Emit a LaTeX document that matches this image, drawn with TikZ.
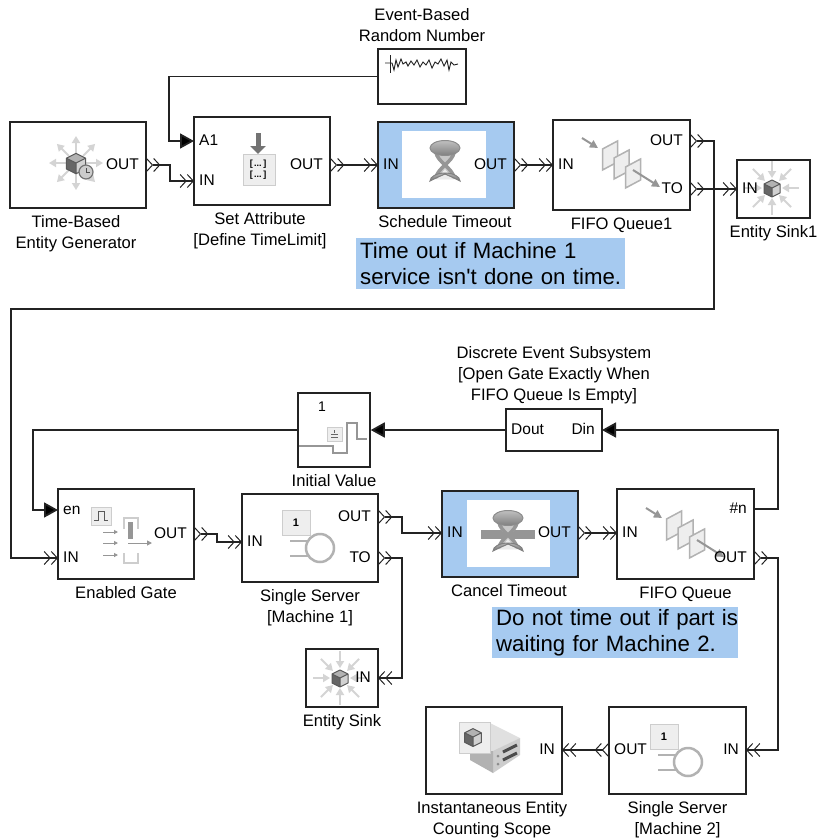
\documentclass[tikz,border=0pt]{standalone}
\usepackage{fontspec}
\setmainfont{Liberation Sans}
\newfontfamily\notefont{Liberation Sans}
\usetikzlibrary{arrows.meta,positioning}
\definecolor{figline}{RGB}{35,35,35}
\definecolor{fignote}{RGB}{166,202,240}
\definecolor{figicon}{RGB}{150,150,150}
\definecolor{figpale}{RGB}{205,205,205}
\definecolor{figpanel}{RGB}{238,238,238}
\tikzset{
  blk/.style   ={draw=figline, line width=1.5pt, fill=white, inner sep=0pt},
  win/.style   ={fill=white, inner sep=0pt},
  lab/.style   ={font=\fontsize{16.6}{21}\selectfont, align=center, inner sep=0pt, below=7pt},
  labt/.style  ={font=\fontsize{16.6}{21}\selectfont, align=center, inner sep=0pt, above=6pt},
  port/.style  ={font=\fontsize{15.5}{18}\selectfont, inner ysep=0pt, inner xsep=5pt, text height=11pt, text depth=3pt},
  portr/.style ={port, inner xsep=7pt, anchor=east},
  note/.style  ={fill=fignote, font=\notefont\fontsize{22.2}{26}\selectfont, align=left, inner xsep=0pt, inner ysep=0pt, minimum height=51pt},
  wire/.style  ={draw=figline, line width=1.8pt},
  sig/.style   ={wire, -{Triangle[length=14pt,width=15pt,fill=black]}},
  ent/.style   ={wire, arrows={Straight Barb[reversed,length=6pt,width=13pt,line width=1pt]Straight Barb[reversed,length=6pt,width=13pt,line width=1pt]-Straight Barb[length=6pt,width=13pt,line width=1pt]Straight Barb[length=6pt,width=13pt,line width=1pt]}},
  ray/.style   ={draw=black!17, line width=2pt, -{Triangle[length=7pt,width=8pt]}},
  gra/.style   ={draw=figicon, line width=2pt, -{Triangle[length=8pt,width=8pt]}},
  cube/.pic={
    \fill[black!30] (-8,-4) -- (0,-8) -- (8,-4) -- (0,0) -- cycle;
    \fill[black!60] (-8,-4) -- (0,0) -- (0,9) -- (-8,5) -- cycle;
    \fill[black!18] (8,-4) -- (0,0) -- (0,9) -- (8,5) -- cycle;
    \draw[draw=black!65,line width=1pt,line join=round] (-8,-4) -- (0,-8) -- (8,-4) -- (8,5) -- (0,9) -- (-8,5) -- cycle (-8,-4) -- (0,0) -- (8,-4) (0,0) -- (0,9);
  },
  burstout/.pic={
    \foreach \a in {0,45,...,315} \draw[ray] (\a:10) -- (\a:27);
    \pic[scale=1.2] at (0,0) {cube};
  },
  burstin/.pic={
    \foreach \a in {0,45,...,315} \draw[ray] (\a:27) -- (\a:10);
    \pic at (0,0) {cube};
  },
  glass/.pic={
    \fill[black!22] (-11,-13) .. controls (-9,-4) and (-3,-2) .. (-2,0) .. controls (-3,2) and (-9,6) .. (-11,14) -- (11,14) .. controls (9,6) and (3,2) .. (2,0) .. controls (3,-2) and (9,-4) .. (11,-13) -- cycle;
    \draw[draw=figicon,line width=3.5pt] (-9,-13) .. controls (-8,-3) and (8,3) .. (9,13);
    \draw[draw=figicon,line width=3.5pt] (9,-13) .. controls (8,-3) and (-8,3) .. (-9,13);
    \fill[black!8] (0,4) -- (-8,14) -- (8,14) -- cycle;
    \draw[draw=black!45,top color=black!25,bottom color=black!50,line width=1pt] (0,-17) ellipse (15 and 7.5);
    \draw[draw=black!50,top color=black!30,bottom color=black!55,line width=1pt] (-15,16) arc[start angle=180,end angle=360,x radius=15,y radius=8] -- (9,13) -- (0,9) -- (-9,13) -- cycle;
  },
  pages/.pic={
    \draw[gra] (-40,-25) -- (-24,-15);
    \foreach \k in {-1,0,1}
      \draw[draw=black!30,fill=figpanel,line width=1.5pt,xshift=\k*11.5pt,yshift=-\k*9pt] (-8,-5) -- (7,-13) -- (7,8) -- (-8,16) -- cycle;
    \draw[gra] (11,7) -- (38,24);
  },
  server/.pic={
    \draw[draw=figpale,fill=figpanel,line width=1pt] (-38,-38) rectangle (-10,-13);
    \node[font=\bfseries\fontsize{11}{12}\selectfont] at (-24,-25) {1};
    \draw[draw=black!30,line width=2.5pt] (0,0) circle (14);
    \draw[draw=black!30,line width=2.5pt] (-30,-7) -- (-12,-7) (-30,8) -- (-12,8);
  },
}
\begin{document}
\begin{tikzpicture}[x=1pt,y=-1pt]
  \useasboundingbox (0,0) rectangle (819,839);
  % blocks
  \node[blk,minimum width=136pt,minimum height=86pt] (gen) at (78,165) {};
  \node[blk,minimum width=136pt,minimum height=88pt] (attr) at (262,161) {};
  \node[blk,minimum width=88pt,minimum height=55pt] (rand) at (422,76.5) {};
  \node[blk,fill=fignote,minimum width=136pt,minimum height=86pt] (sched) at (446,165) {};
  \node[win,minimum width=84pt,minimum height=67pt] (schedwin) at (444,164.5) {};
  \node[blk,minimum width=137pt,minimum height=90pt] (fifoa) at (621.5,165) {};
  \node[blk,minimum width=73pt,minimum height=58pt] (sinka) at (773.5,189) {};
  \node[blk,minimum width=136pt,minimum height=90pt] (gate) at (126,534) {};
  \node[blk,minimum width=72pt,minimum height=74pt] (init) at (334,430) {};
  \node[blk,minimum width=136pt,minimum height=88pt] (srva) at (310,538) {};
  \node[blk,minimum width=96pt,minimum height=42pt] (subs) at (554,430) {};
  \node[blk,fill=fignote,minimum width=136pt,minimum height=86pt] (cancel) at (510,534) {};
  \node[win,minimum width=83pt,minimum height=67pt] (cancelwin) at (508.5,533.5) {};
  \node[blk,minimum width=137pt,minimum height=90pt] (fifob) at (685.5,534) {};
  \node[blk,minimum width=72pt,minimum height=58pt] (sinkb) at (342,678) {};
  \node[blk,minimum width=136pt,minimum height=87pt] (scope) at (494,750.5) {};
  \node[blk,minimum width=137pt,minimum height=87pt] (srvb) at (677.5,750.5) {};
  % notes
  \node[note,text width=269pt,anchor=north west] (notea) at (356,238) {\hspace*{4pt}Time out if Machine 1\\\hspace*{4pt}service isn't done on time.};
  \node[note,text width=246pt,anchor=north west] (noteb) at (492,607) {\hspace*{4pt}Do not time out if part is\\\hspace*{4pt}waiting for Machine 2.};
  % block names
  \node[lab] (genlab) at (76,208) {Time-Based\\Entity Generator};
  \node[lab] (attrlab) at (260,205) {Set Attribute\\{[Define TimeLimit]}};
  \node[labt] (randlab) at (rand.north) {Event-Based\\Random Number};
  \node[lab] (schedlab) at (445,208) {Schedule Timeout};
  \node[lab] (fifoalab) at (fifoa.south) {FIFO Queue1};
  \node[lab] (sinkalab) at (sinka.south) {Entity Sink1};
  \node[lab] (gatelab) at (gate.south) {Enabled Gate};
  \node[lab] (initlab) at (init.south) {Initial Value};
  \node[lab] (srvalab) at (srva.south) {Single Server\\{[Machine 1]}};
  \node[labt,above=4pt] (subslab) at (subs.north) {Discrete Event Subsystem\\{[Open Gate Exactly When}\\FIFO Queue Is Empty]};
  \node[lab] (cancellab) at (509,577) {Cancel Timeout};
  \node[lab] (fifoblab) at (fifob.south) {FIFO Queue};
  \node[lab] (sinkblab) at (sinkb.south) {Entity Sink};
  \node[lab] (scopelab) at (492,794) {Instantaneous Entity\\Counting Scope};
  \node[lab] (srvblab) at (srvb.south) {Single Server\\{[Machine 2]}};
  % icons
  \pic at (76,163) {burstout};
  \draw[draw=black!55,fill=black!20,line width=1.2pt] (86,172) circle (7);
  \draw[draw=black!70,line width=1pt] (86,168) -- (86,172) -- (90,172);
  \pic at (772,188) {burstin};
  \pic at (340,678) {burstin};
  \pic at (445,165) {glass};
  \fill[figicon] (481,530) rectangle (535,539);
  \pic at (508,535) {glass};
  \pic at (622,163) {pages};
  \pic at (686,533) {pages};
  \pic at (320,548) {server};
  \pic at (688,762) {server};
  % attribute icon
  \draw[draw=black!55,line width=5pt,-{Triangle[length=8pt,width=15pt]}] (258,133) -- (258,154);
  \draw[draw=figpale,fill=figpanel,line width=1pt] (243,154) rectangle (275,185);
  \node[font=\bfseries\fontsize{9}{11}\selectfont,align=center,inner sep=0pt] (attrbrk) at (258,169.5) {[\,...\,]\\{[\,...\,]}};
  % gate icon
  \draw[draw=figpale,fill=figpanel,line width=1pt] (91,507) rectangle (111,525);
  \draw[draw=black!65,line width=1pt] (94,520) -- (98,520) -- (98,511) -- (104,511) -- (104,520) -- (108,520);
  \foreach \y in {532,543,555} \draw[draw=figicon,line width=1pt,-{Triangle[length=4pt,width=4pt]}] (103,\y) -- (118,\y);
  \draw[draw=figpale,line width=2.5pt] (124,529) -- (124,518) -- (138,518) -- (138,529);
  \fill[figicon] (128,522) rectangle (133,539);
  \draw[draw=figpale,line width=2.5pt] (124,553) -- (124,563) -- (138,563) -- (138,553);
  \draw[draw=figicon,line width=1pt,-{Triangle[length=5pt,width=5pt]}] (128,543) -- (152,543);
  % initial value icon
  \node[font=\fontsize{14}{16}\selectfont,inner sep=0pt] (initval) at (322,407) {1};
  \draw[draw=figicon,line width=2.5pt] (299,446) -- (333,446) -- (333,453) -- (347,453) -- (347,423) -- (357,423) -- (357,439) -- (367,439);
  \draw[draw=figpale,fill=figpanel,line width=1pt] (327,427) rectangle (342,441);
  \draw[draw=black!60,line width=.8pt] (331,437) -- (338,437) (331,434) -- (338,434) (334.5,430) -- (334.5,433);
  % random signal icon
  \draw[draw=figline,line width=.7pt] (390,55) -- (390,73);
  \draw[draw=figline,line width=.9pt] (385,63) -- (392,63) -- (394,70) -- (396,60) -- (398,67) -- (401,59) -- (403,64) -- (406,62) -- (408,66) -- (411,61) -- (414,65) -- (417,60) -- (420,67) -- (423,62) -- (426,65) -- (429,60) -- (432,68) -- (435,62) -- (438,64) -- (441,59) -- (444,66) -- (447,60) -- (449,70) -- (451,62) -- (454,65) -- (458,64);
  % scope icon
  \fill[black!12] (490,723) -- (520,738) -- (494,751) -- (490,753) -- cycle;
  \fill[figpale] (520,738) -- (520,755) -- (493,773) -- (493,751) -- cycle;
  \fill[black!30] (470,753) -- (493,751) -- (493,773) -- (470,760) -- cycle;
  \draw[draw=black!70,line width=3pt] (503,752) -- (517,745) (503,760) -- (517,753);
  \fill[black!45] (498,756) circle (1.5) (498,764) circle (1.5);
  \draw[draw=figpale,fill=figpanel,line width=1pt] (459,722) rectangle (490,753);
  \pic[scale=1.05] at (473,737) {cube};
  % ports
  \node[portr] (genout) at (146,165) {OUT};
  \node[port,anchor=west] (attrsig) at (194,141) {A1};
  \node[port,anchor=west] (attrin) at (194,181) {IN};
  \node[portr] (attrout) at (330,165) {OUT};
  \node[port,anchor=west] (schedin) at (378,165) {IN};
  \node[portr] (schedout) at (514,165) {OUT};
  \node[port,anchor=west] (fifoain) at (553,165) {IN};
  \node[portr] (fifoaout) at (690,141) {OUT};
  \node[portr] (fifoato) at (690,189) {TO};
  \node[port,anchor=west] (sinkain) at (737,189) {IN};
  \node[port,anchor=west] (gateen) at (58,510) {en};
  \node[port,anchor=west] (gatein) at (58,558) {IN};
  \node[portr] (gateout) at (194,534) {OUT};
  \node[port,anchor=west] (srvain) at (242,542) {IN};
  \node[portr] (srvaout) at (378,517) {OUT};
  \node[portr] (srvato) at (378,558) {TO};
  \node[port,anchor=west] (subsout) at (506,430) {Dout};
  \node[portr] (subsin) at (602,430) {Din};
  \node[port,anchor=west] (cancelin) at (442,533) {IN};
  \node[portr] (cancelout) at (578,533) {OUT};
  \node[port,anchor=west] (fifobin) at (617,533) {IN};
  \node[portr] (fifobn) at (754,509) {\#n};
  \node[portr] (fifobout) at (754,558) {OUT};
  \node[portr] (sinkbin) at (378,678) {IN};
  \node[portr] (scopein) at (562,750) {IN};
  \node[port,anchor=west] (srvbout) at (609,750) {OUT};
  \node[portr] (srvbin) at (746,750) {IN};
  % connectors
  \coordinate (wrap) at (11,309);
  \draw[ent] (genout.east) -- ++(24,0) |- (attrin.west);
  \draw[sig] (rand.west) -- ++(-208,0) |- (attrsig.west);
  \draw[ent] (attrout.east) -- (schedin.west);
  \draw[ent] (schedout.east) -- (fifoain.west);
  \draw[ent] (fifoaout.east) -- ++(24,0) |- (wrap) |- (gatein.west);
  \draw[ent] (fifoato.east) -- (sinkain.west);
  \draw[sig] (fifobn.east) -- ++(24,0) |- (subsin.east);
  \draw[sig] (subsout.west) -- (init.east);
  \draw[sig] (init.west) -- ++(-264,0) |- (gateen.west);
  \draw[ent] (gateout.east) -- ++(23,0) |- (srvain.west);
  \draw[ent] (srvaout.east) -- ++(24,0) |- (cancelin.west);
  \draw[ent] (srvato.east) -- ++(24,0) |- (sinkbin.east);
  \draw[ent] (cancelout.east) -- (fifobin.west);
  \draw[ent] (fifobout.east) -- ++(24,0) |- (srvbin.east);
  \draw[ent] (srvbout.west) -- (scopein.east);
\end{tikzpicture}
\end{document}
